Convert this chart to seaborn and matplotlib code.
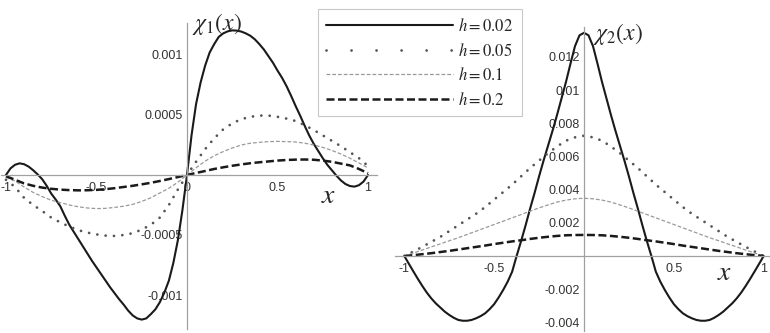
import numpy as np
import matplotlib
matplotlib.use("Agg")
import matplotlib.pyplot as plt
from matplotlib.lines import Line2D
from matplotlib.ticker import MultipleLocator
import seaborn as sns

sns.set_theme(style="white")
plt.rcParams['font.family'] = ['Liberation Sans Narrow', 'Liberation Sans', 'DejaVu Sans']
plt.rcParams['mathtext.fontset'] = 'stix'
plt.rcParams['axes.unicode_minus'] = False

# sample positions along x (coarse grid for smooth curves, fine grid for h = 0.02)
XS = [-1.0, -0.95, -0.9, -0.85, -0.8, -0.75, -0.7, -0.65, -0.6, -0.55, -0.5,
      -0.45, -0.4, -0.35, -0.3, -0.25, -0.2, -0.15, -0.1, -0.05, 0.0,
      0.05, 0.1, 0.15, 0.2, 0.25, 0.3, 0.35, 0.4, 0.45, 0.5,
      0.55, 0.6, 0.65, 0.7, 0.75, 0.8, 0.85, 0.9, 0.95, 1.0]
XS_FINE = [-1.0, -0.975, -0.95, -0.925, -0.9, -0.875, -0.85, -0.825, -0.8, -0.775,
           -0.75, -0.725, -0.7, -0.675, -0.65, -0.625, -0.6, -0.575, -0.55, -0.525,
           -0.5, -0.475, -0.45, -0.425, -0.4, -0.375, -0.35, -0.325, -0.3, -0.275,
           -0.25, -0.225, -0.2, -0.175, -0.15, -0.125, -0.1, -0.075, -0.05, -0.025,
           0.0,
           0.025, 0.05, 0.075, 0.1, 0.125, 0.15, 0.175, 0.2, 0.225, 0.25,
           0.275, 0.3, 0.325, 0.35, 0.375, 0.4, 0.425, 0.45, 0.475, 0.5,
           0.525, 0.55, 0.575, 0.6, 0.625, 0.65, 0.675, 0.7, 0.725, 0.75,
           0.775, 0.8, 0.825, 0.85, 0.875, 0.9, 0.925, 0.95, 0.975, 1.0]

H_LABELS = ["$h = 0.02$", "$h = 0.05$", "$h = 0.1$", "$h = 0.2$"]

# chi_1(x), units of 1e-4
CHI1_H002 = [0, 0.55, 0.85, 0.97, 0.9, 0.7, 0.4, 0.05, -0.35, -0.9,
             -1.55, -2.05, -2.6, -3.4, -4.15, -4.75, -5.35, -5.95, -6.55, -7.15,
             -7.7, -8.25, -8.8, -9.35, -9.85, -10.35, -10.8, -11.3, -11.7, -11.95,
             -12.05, -11.95, -11.6, -11.2, -10.6, -9.8, -8.8, -7.3, -5.4, -2.9,
             0,
             3.3, 5.9, 7.7, 9.1, 10.2, 10.9, 11.5, 11.8, 11.97, 12.05,
             12.03, 11.95, 11.8, 11.6, 11.3, 10.9, 10.45, 9.9, 9.35, 8.7,
             8.1, 7.4, 6.6, 5.75, 4.95, 4.1, 3.3, 2.6, 2.0, 1.4,
             0.85, 0.4, -0.05, -0.45, -0.75, -0.92, -0.97, -0.85, -0.55, 0]
CHI1_H005 = [-0.4, -1.0, -1.9, -2.5, -3.0, -3.55, -3.95, -4.3, -4.6, -4.8, -4.95,
             -5.05, -5.08, -5.0, -4.85, -4.55, -4.15, -3.55, -2.5, -1.2, 0,
             1.1, 2.15, 3.05, 3.8, 4.3, 4.65, 4.85, 4.95, 4.95, 4.85,
             4.7, 4.5, 4.15, 3.75, 3.3, 2.85, 2.4, 1.9, 1.4, 0.75]
CHI1_H01 = [-0.2, -0.5, -1.0, -1.45, -1.8, -2.1, -2.3, -2.5, -2.65, -2.75, -2.8,
            -2.78, -2.7, -2.6, -2.45, -2.2, -1.9, -1.5, -1.1, -0.6, 0,
            0.6, 1.15, 1.6, 1.95, 2.25, 2.5, 2.65, 2.72, 2.78, 2.8,
            2.78, 2.75, 2.65, 2.5, 2.3, 2.05, 1.75, 1.4, 1.0, 0.6]
CHI1_H02 = [-0.1, -0.4, -0.7, -0.9, -1.05, -1.15, -1.22, -1.26, -1.28, -1.27, -1.24,
            -1.18, -1.1, -1.0, -0.9, -0.78, -0.65, -0.5, -0.34, -0.17, 0,
            0.17, 0.33, 0.5, 0.64, 0.77, 0.88, 0.98, 1.06, 1.13, 1.2,
            1.25, 1.28, 1.29, 1.27, 1.2, 1.1, 0.95, 0.8, 0.5, 0.15]

# chi_2(x), units of 1e-3
CHI2_H002 = [0, -0.46, -0.92, -1.37, -1.8, -2.2, -2.55, -2.85, -3.1, -3.35,
             -3.55, -3.72, -3.85, -3.9, -3.9, -3.85, -3.75, -3.62, -3.45, -3.2,
             -2.9, -2.5, -2.05, -1.55, -0.95, 0, 0.9, 1.85, 2.85, 3.8,
             4.8, 5.75, 6.65, 7.55, 8.5, 9.5, 10.5, 11.6, 12.65, 13.3,
             13.45,
             13.3, 12.65, 11.6, 10.5, 9.5, 8.5, 7.55, 6.65, 5.75, 4.8,
             3.8, 2.85, 1.85, 0.9, 0, -0.95, -1.55, -2.05, -2.5, -2.9,
             -3.2, -3.45, -3.62, -3.75, -3.85, -3.9, -3.9, -3.85, -3.72, -3.55,
             -3.35, -3.1, -2.85, -2.55, -2.2, -1.8, -1.37, -0.92, -0.46, 0]
CHI2_H005 = [0, 0.27, 0.55, 0.85, 1.15, 1.5, 1.85, 2.2, 2.55, 2.95, 3.4,
             3.85, 4.3, 4.8, 5.3, 5.75, 6.2, 6.6, 6.95, 7.15, 7.25,
             7.15, 6.95, 6.6, 6.2, 5.75, 5.3, 4.8, 4.3, 3.85, 3.4,
             2.95, 2.55, 2.2, 1.85, 1.5, 1.15, 0.85, 0.55, 0.27, 0]
CHI2_H01 = [0, 0.18, 0.36, 0.55, 0.73, 0.92, 1.1, 1.3, 1.5, 1.7, 1.9,
            2.1, 2.3, 2.5, 2.7, 2.9, 3.08, 3.25, 3.37, 3.45, 3.48,
            3.45, 3.37, 3.25, 3.08, 2.9, 2.7, 2.5, 2.3, 2.1, 1.9,
            1.7, 1.5, 1.3, 1.1, 0.92, 0.73, 0.55, 0.36, 0.18, 0]
CHI2_H02 = [0, 0.05, 0.11, 0.17, 0.24, 0.31, 0.39, 0.47, 0.55, 0.63, 0.72,
            0.8, 0.88, 0.95, 1.03, 1.1, 1.16, 1.21, 1.25, 1.265, 1.27,
            1.265, 1.25, 1.21, 1.16, 1.1, 1.03, 0.95, 0.88, 0.8, 0.72,
            0.63, 0.55, 0.47, 0.39, 0.31, 0.24, 0.17, 0.11, 0.05, 0]

X1_TICKS = [-1, -0.5, 0, 0.5, 1]
X1_TICKLABELS = ["-1", "-0.5", "0", "0.5", "1"]
Y1_TICKS = [-0.001, -0.0005, 0.0005, 0.001]
Y1_TICKLABELS = ["-0.001", "-0.0005", "0.0005", "0.001"]
X2_TICKS = [-1, -0.5, 0.5, 1]
X2_TICKLABELS = ["-1", "-0.5", "0.5", "1"]
Y2_TICKS = [-0.004, -0.002, 0.002, 0.004, 0.006, 0.008, 0.01, 0.012]
Y2_TICKLABELS = ["-0.004", "-0.002", "0.002", "0.004", "0.006", "0.008", "0.01", "0.012"]

# line styles: solid, dots, thin grey dashes, thick dashes
STYLES = [
    dict(color="#1a1a1a", lw=1.5, linestyle="-", solid_joinstyle="round"),
    dict(color="#555555", lw=2.0, linestyle=(0, (0.01, 3.0)), dash_capstyle="round"),
    dict(color="#9a9a9a", lw=0.9, linestyle=(0, (3.0, 1.6))),
    dict(color="#1a1a1a", lw=1.8, linestyle=(0, (3.2, 1.4))),
]

AXIS_GREY = "#a0a0a0"


def style_axes(ax):
    for side in ["top", "right"]:
        ax.spines[side].set_visible(False)
    ax.spines["left"].set_position("zero")
    ax.spines["bottom"].set_position("zero")
    for side in ["left", "bottom"]:
        ax.spines[side].set_color(AXIS_GREY)
        ax.spines[side].set_linewidth(0.9)
    ax.tick_params(which="major", direction="in", length=4, width=0.7,
                   color=AXIS_GREY, labelsize=9, labelcolor="#333333", pad=3)
    ax.tick_params(axis="x", which="major", pad=5)
    ax.tick_params(which="minor", direction="in", length=2, width=0.5, color=AXIS_GREY)
    ax.set_facecolor("none")


fig = plt.figure(figsize=(7.7, 3.33), dpi=100)

# left panel: chi_1
ax1 = fig.add_axes([0.0007, 0.0132, 0.489, 0.919])
chi1 = [(XS_FINE, CHI1_H002), (XS, CHI1_H005), (XS, CHI1_H01), (XS, CHI1_H02)]
for (xs, vals), st in zip(chi1, STYLES):
    sns.lineplot(x=xs, y=np.array(vals) * 1e-4, ax=ax1, **st)
ax1.set_xlim(-1.03, 1.05)
ax1.set_ylim(-0.00128, 0.00127)
style_axes(ax1)
ax1.set_xticks(X1_TICKS, X1_TICKLABELS)
ax1.set_yticks(Y1_TICKS, Y1_TICKLABELS)
ax1.xaxis.set_minor_locator(MultipleLocator(0.1))
ax1.yaxis.set_minor_locator(MultipleLocator(0.0001))
ax1.text(0.025, 0.00126, r"$\chi_1(x)$", fontsize=17, ha="left", va="center", clip_on=False)
ax1.text(0.78, -0.000175, r"$x$", fontsize=20, ha="center", va="center")

# right panel: chi_2
ax2 = fig.add_axes([0.5134, 0.0069, 0.4854, 0.912])
chi2 = [(XS_FINE, CHI2_H002), (XS, CHI2_H005), (XS, CHI2_H01), (XS, CHI2_H02)]
for (xs, vals), st in zip(chi2, STYLES):
    sns.lineplot(x=xs, y=np.array(vals) * 1e-3, ax=ax2, **st)
ax2.set_xlim(-1.05, 1.03)
ax2.set_ylim(-0.0045, 0.0138)
style_axes(ax2)
ax2.set_xticks(X2_TICKS, X2_TICKLABELS)
ax2.set_yticks(Y2_TICKS, Y2_TICKLABELS)
ax2.xaxis.set_minor_locator(MultipleLocator(0.1))
ax2.yaxis.set_minor_locator(MultipleLocator(0.0005))
ax2.text(0.05, 0.0134, r"$\chi_2(x)$", fontsize=17, ha="left", va="center", clip_on=False)
ax2.text(0.78, -0.001, r"$x$", fontsize=20, ha="center", va="center")

# legend, with wider dot spacing as in the original
legend_styles = [dict(st) for st in STYLES]
legend_styles[1]["linestyle"] = (0, (0.01, 9.0))
handles = [Line2D([0], [0], **st) for st in legend_styles]
leg = fig.legend(handles, H_LABELS, loc="upper left",
                 bbox_to_anchor=(318 / 770, 1 - 9 / 333), borderaxespad=0,
                 frameon=True, fancybox=False, framealpha=1, edgecolor="#c8c8c8",
                 handlelength=7.6, handletextpad=0.3, labelspacing=0.45,
                 borderpad=0.5, prop={"size": 12})
leg.get_frame().set_linewidth(0.8)

fig.savefig("out.png", dpi=100)
